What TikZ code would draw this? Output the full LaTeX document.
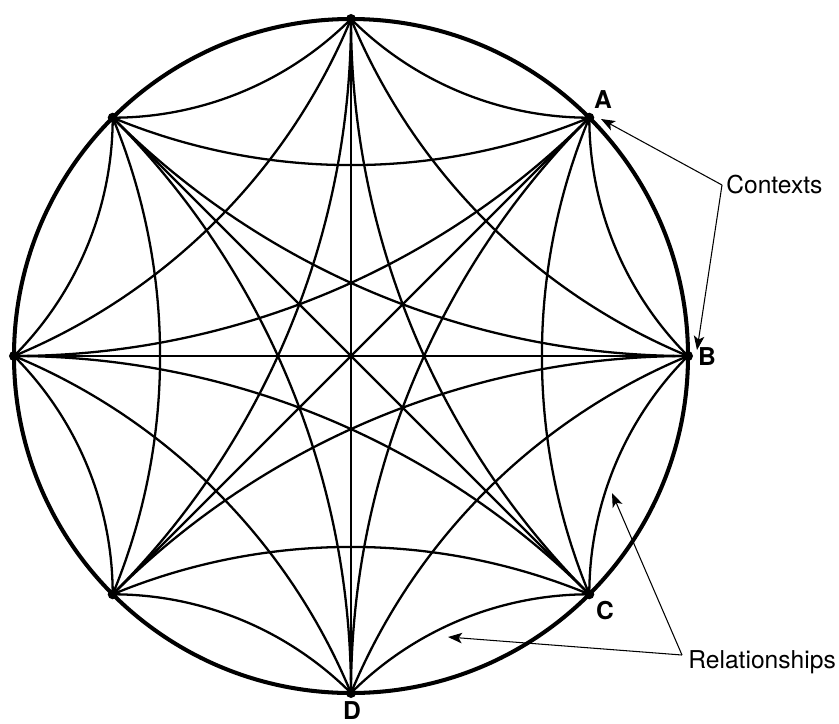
\documentclass[tikz,border=0pt]{standalone}
\usepackage{fontspec}
\setmainfont{TeX Gyre Heros}
\usetikzlibrary{arrows.meta}
\tikzset{
 geo/.style={line width=1.3pt},
 rim/.style={line width=2.3pt},
 lbl/.style={font=\fontsize{14}{16}\selectfont\bfseries,inner sep=0pt},
 note/.style={font=\fontsize{14}{16}\selectfont,anchor=base west,inner sep=0pt},
 ptr/.style={line width=0.6pt,-{Stealth[length=8pt,width=6pt,inset=2pt]}}
}
\begin{document}
\begin{tikzpicture}
\useasboundingbox (-7.02,-7.34) rectangle (9.76,7.12);
\def\R{6.74}
\foreach \i in {0,...,7} \coordinate (p\i) at (45*\i:\R);
\draw[rim] (0,0) circle (\R);
\foreach \i in {0,...,7}{
  \foreach \k in {1,2,3}{
    \pgfmathtruncatemacro\j{mod(\i+\k,8)}
    \draw[geo] (p\j) arc[start angle={45*\i+22.5*\k+157.5},delta angle=45,radius={\R*sin(22.5*\k)/sin(22.5)}];
  }
}
\foreach \i/\j in {0/4,1/5,2/6,3/7} \draw[geo] (p\i) -- (p\j);
\foreach \i in {0,...,7} \fill (p\i) circle (0.1);
\node[lbl] (la) at (5.04,5.12) {A};
\node[lbl] (lb) at (7.12,-0.02) {B};
\node[lbl] (lc) at (5.08,-5.10) {C};
\node[lbl] (ld) at (0.02,-7.1) {D};
\node[note] (ctx) at (7.5,3.26) {Contexts};
\node[note] (rel) at (6.74,-6.24) {Relationships};
\coordinate (cj) at (7.42,3.42);
\coordinate (ta) at (5.0,4.74);
\coordinate (tb) at (6.92,0.12);
\coordinate (rj) at (6.62,-5.98);
\coordinate (tr1) at (5.22,-2.74);
\coordinate (tr2) at (1.94,-5.62);
\draw[ptr] (cj) -- (ta);
\draw[ptr] (cj) -- (tb);
\draw[ptr] (rj) -- (tr1);
\draw[ptr] (rj) -- (tr2);
\end{tikzpicture}
\end{document}
